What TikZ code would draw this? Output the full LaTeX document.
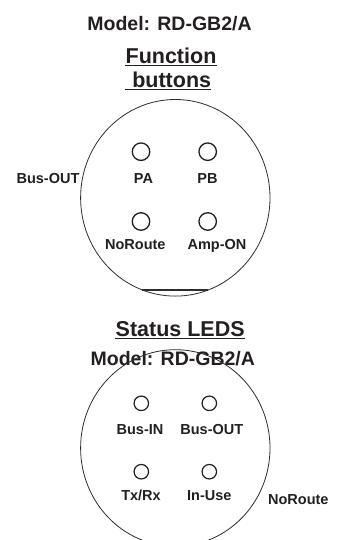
\documentclass[tikz,border=0pt]{standalone}
\usepackage{fontspec}
\setmainfont{Liberation Sans}
\definecolor{ink}{RGB}{35,31,32}
\definecolor{rim}{RGB}{45,45,48}
\usetikzlibrary{calc}
\tikzset{
  heading/.style={font=\fontsize{21.5}{24}\selectfont\bfseries, text=ink, inner sep=0pt, anchor=base},
  model/.style={font=\fontsize{19.5}{22}\selectfont\bfseries, text=ink, inner sep=0pt, anchor=base},
  lbl/.style={font=\fontsize{14.5}{17}\selectfont\bfseries, text=ink, inner sep=0pt, anchor=base},
  uline/.style={ink, line width=1.3pt},
  panel/.style={rim, line width=0.8pt},
  chord/.style={rim, line width=1.6pt},
  btn/.style={circle, draw=ink, line width=1.3pt, minimum size=17.5pt, inner sep=0pt},
  led/.style={circle, draw=ink, line width=1.2pt, minimum size=14.5pt, inner sep=0pt},
}
\begin{document}
\begin{tikzpicture}[x=1pt,y=-1pt]
    \useasboundingbox (0,0) rectangle (339,540);
    \clip (0,0) rectangle (339,540);
    % --- function buttons ---
    \node[model]   (mtop) at (169.5,30.5) {Model: RD-GB2/A};
    \node[heading] (fn)   at (171,64) {Function};
    \node[heading] (bt)   at (171.7,87.5) {buttons};
    \draw[uline] ([yshift=-1.3pt]fn.base west) -- ([yshift=-1.3pt]fn.base east);
    \draw[uline] ([xshift=-7.4pt,yshift=-1.8pt]bt.base west) -- ([yshift=-1.8pt]bt.base east);
    \coordinate (fc) at (175.3,197.8);
    \draw[panel] (fc) ellipse [x radius=94.7, y radius=98.3];
    \draw[chord] ($(fc)+(110.3:94.7 and 98.3)$) -- ($(fc)+(69.7:94.7 and 98.3)$);
    \node[btn] (pa) at (141,151.7) {};
    \node[btn] (pb) at (207.7,151.7) {};
    \node[btn] (nr) at (141,221.5) {};
    \node[btn] (am) at (207.7,221.5) {};
    \node[lbl] (pal) at (143.5,183.2) {PA};
    \node[lbl] (pbl) at (207.5,183.2) {PB};
    \node[lbl] (nrl) at (135.3,249.2) {NoRoute};
    \node[lbl] (aml) at (217,249.2) {Amp-ON};
    \node[lbl] (bo)  at (48,183.2) {Bus-OUT};
    % --- status leds ---
    \node[heading] (st)   at (180.2,336) {Status LEDS};
    \draw[uline] ([yshift=-2.2pt]st.base west) -- ([yshift=-2.2pt]st.base east);
    \node[model]   (mbot) at (172.8,365) {Model: RD-GB2/A};
    \coordinate (sc) at (175.3,448);
    \draw[panel] (sc) ellipse [x radius=94.7, y radius=98.3];
    \node[led] (bi) at (141.3,403.3) {};
    \node[led] (bx) at (209.3,403.3) {};
    \node[led] (tr) at (141.3,471.7) {};
    \node[led] (iu) at (209.3,471.7) {};
    \node[lbl] (bil) at (140,434) {Bus-IN};
    \node[lbl] (bxl) at (211.8,434) {Bus-OUT};
    \node[lbl] (trl) at (141,500) {Tx/Rx};
    \node[lbl] (iul) at (209.3,500) {In-Use};
    \node[lbl] (nr2) at (298.3,504.5) {NoRoute};
\end{tikzpicture}
\end{document}
